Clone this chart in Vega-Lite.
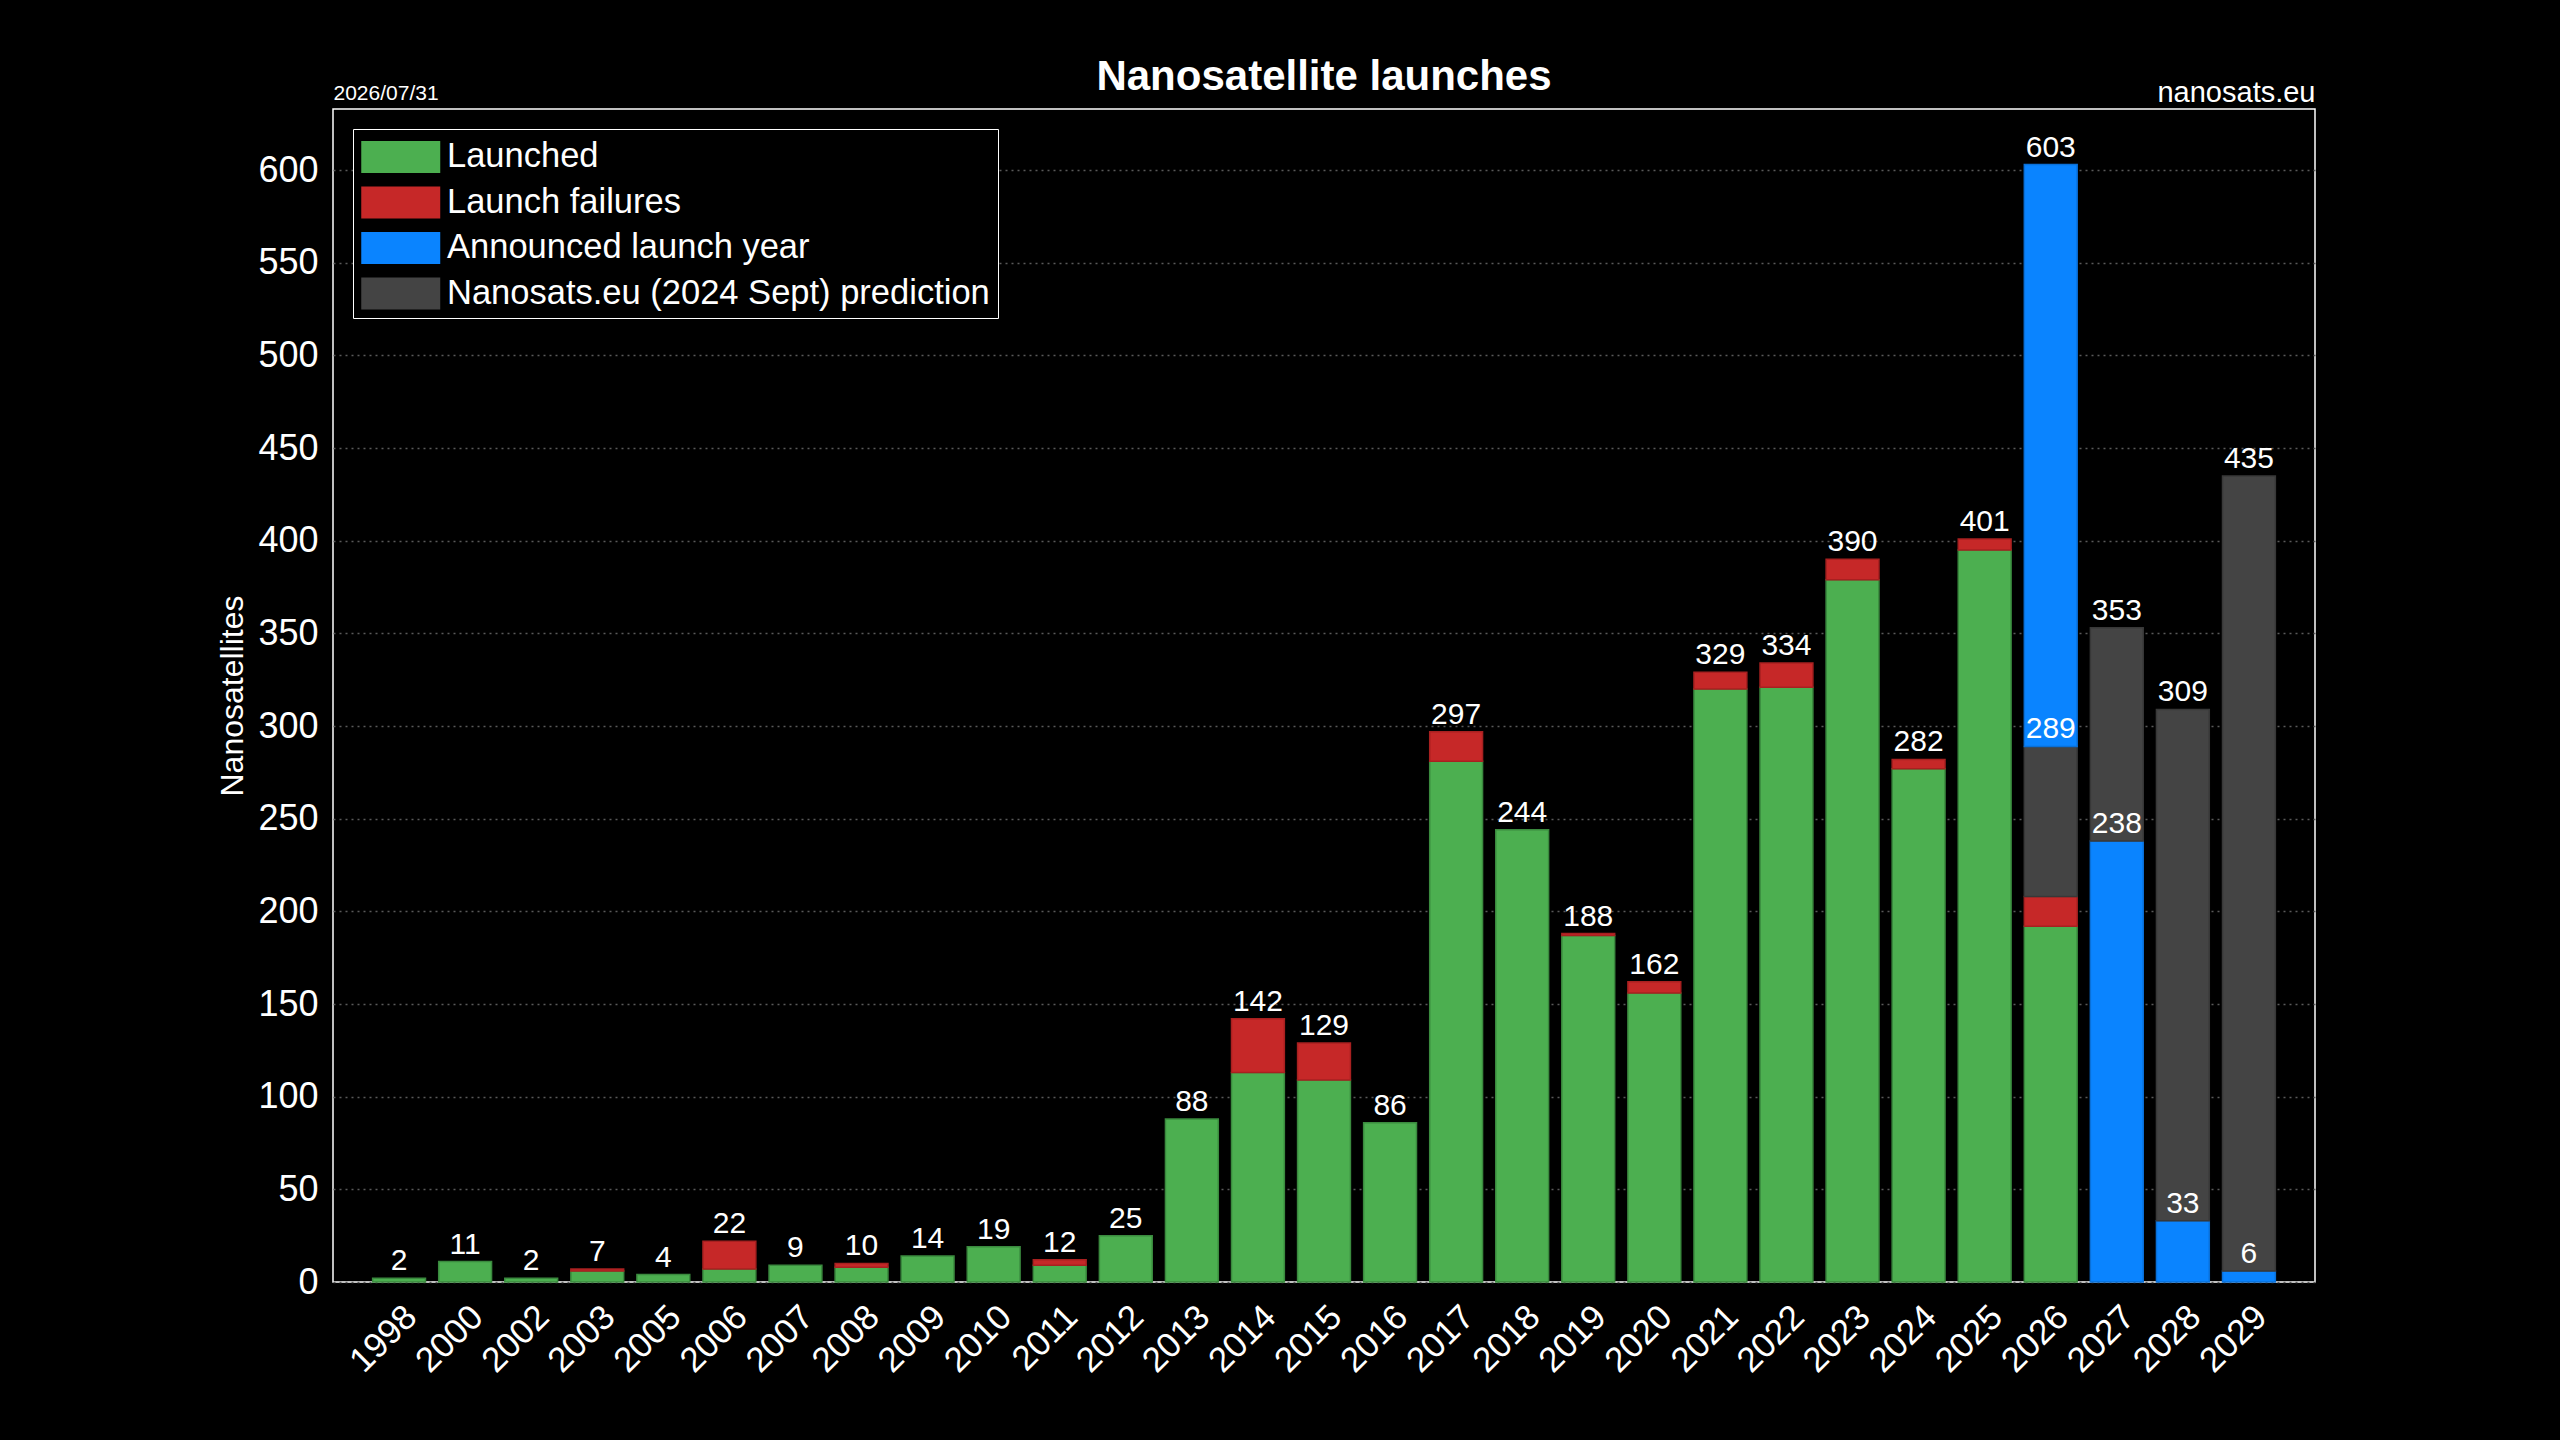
{
  "$schema": "https://vega.github.io/schema/vega-lite/v6.json",
  "width": 1982,
  "height": 1173,
  "autosize": "none",
  "padding": {"left": 333, "top": 109, "right": 245, "bottom": 158},
  "background": "black",
  "title": {
    "text": "Nanosatellite launches",
    "anchor": "middle",
    "baseline": "alphabetic",
    "offset": -54,
    "font": "Liberation Sans",
    "fontSize": 42,
    "fontWeight": "bold",
    "color": "white"
  },
  "datasets": {
    "bars": [
      {"year": "1998", "series": "Launched", "n": 2},
      {"year": "2000", "series": "Launched", "n": 11},
      {"year": "2002", "series": "Launched", "n": 2},
      {"year": "2003", "series": "Launched", "n": 6},
      {"year": "2003", "series": "Launch failures", "n": 1},
      {"year": "2005", "series": "Launched", "n": 4},
      {"year": "2006", "series": "Launched", "n": 7},
      {"year": "2006", "series": "Launch failures", "n": 15},
      {"year": "2007", "series": "Launched", "n": 9},
      {"year": "2008", "series": "Launched", "n": 8},
      {"year": "2008", "series": "Launch failures", "n": 2},
      {"year": "2009", "series": "Launched", "n": 14},
      {"year": "2010", "series": "Launched", "n": 19},
      {"year": "2011", "series": "Launched", "n": 9},
      {"year": "2011", "series": "Launch failures", "n": 3},
      {"year": "2012", "series": "Launched", "n": 25},
      {"year": "2013", "series": "Launched", "n": 88},
      {"year": "2014", "series": "Launched", "n": 113},
      {"year": "2014", "series": "Launch failures", "n": 29},
      {"year": "2015", "series": "Launched", "n": 109},
      {"year": "2015", "series": "Launch failures", "n": 20},
      {"year": "2016", "series": "Launched", "n": 86},
      {"year": "2017", "series": "Launched", "n": 281},
      {"year": "2017", "series": "Launch failures", "n": 16},
      {"year": "2018", "series": "Launched", "n": 244},
      {"year": "2019", "series": "Launched", "n": 187},
      {"year": "2019", "series": "Launch failures", "n": 1},
      {"year": "2020", "series": "Launched", "n": 156},
      {"year": "2020", "series": "Launch failures", "n": 6},
      {"year": "2021", "series": "Launched", "n": 320},
      {"year": "2021", "series": "Launch failures", "n": 9},
      {"year": "2022", "series": "Launched", "n": 321},
      {"year": "2022", "series": "Launch failures", "n": 13},
      {"year": "2023", "series": "Launched", "n": 379},
      {"year": "2023", "series": "Launch failures", "n": 11},
      {"year": "2024", "series": "Launched", "n": 277},
      {"year": "2024", "series": "Launch failures", "n": 5},
      {"year": "2025", "series": "Launched", "n": 395},
      {"year": "2025", "series": "Launch failures", "n": 6},
      {"year": "2026", "series": "Launched", "n": 192},
      {"year": "2026", "series": "Launch failures", "n": 16},
      {"year": "2026", "series": "Nanosats.eu (2024 Sept) prediction", "n": 81},
      {"year": "2026", "series": "Announced launch year", "n": 314},
      {"year": "2027", "series": "Announced launch year", "n": 238},
      {"year": "2027", "series": "Nanosats.eu (2024 Sept) prediction", "n": 115},
      {"year": "2028", "series": "Announced launch year", "n": 33},
      {"year": "2028", "series": "Nanosats.eu (2024 Sept) prediction", "n": 276},
      {"year": "2029", "series": "Announced launch year", "n": 6},
      {"year": "2029", "series": "Nanosats.eu (2024 Sept) prediction", "n": 429}
    ],
    "labels": [
      {"year": "1998", "n": 2},
      {"year": "2000", "n": 11},
      {"year": "2002", "n": 2},
      {"year": "2003", "n": 7},
      {"year": "2005", "n": 4},
      {"year": "2006", "n": 22},
      {"year": "2007", "n": 9},
      {"year": "2008", "n": 10},
      {"year": "2009", "n": 14},
      {"year": "2010", "n": 19},
      {"year": "2011", "n": 12},
      {"year": "2012", "n": 25},
      {"year": "2013", "n": 88},
      {"year": "2014", "n": 142},
      {"year": "2015", "n": 129},
      {"year": "2016", "n": 86},
      {"year": "2017", "n": 297},
      {"year": "2018", "n": 244},
      {"year": "2019", "n": 188},
      {"year": "2020", "n": 162},
      {"year": "2021", "n": 329},
      {"year": "2022", "n": 334},
      {"year": "2023", "n": 390},
      {"year": "2024", "n": 282},
      {"year": "2025", "n": 401},
      {"year": "2026", "n": 603},
      {"year": "2026", "n": 289},
      {"year": "2027", "n": 353},
      {"year": "2027", "n": 238},
      {"year": "2028", "n": 309},
      {"year": "2028", "n": 33},
      {"year": "2029", "n": 435},
      {"year": "2029", "n": 6}
    ]
  },
  "layer": [
    {
      "data": {"name": "bars"},
      "transform": [
        {"calculate": "datum.series === 'Launched' ? 1 : datum.series === 'Launch failures' ? 2 : datum.series === 'Announced launch year' ? (datum.year === '2026' ? 4 : 1) : 3", "as": "k"}
      ],
      "mark": {"type": "bar", "strokeWidth": 1.5},
      "encoding": {
        "x": {
          "field": "year",
          "type": "ordinal",
          "scale": {"paddingInner": 0.2, "paddingOuter": 0.6},
          "axis": {
            "title": null,
            "labelAngle": -45,
            "labelAlign": "right",
            "labelBaseline": "top",
            "labelPadding": 17,
            "labelFontSize": 35,
            "ticks": false,
            "domain": false
          }
        },
        "y": {
          "field": "n",
          "type": "quantitative",
          "stack": "zero",
          "scale": {"domain": [0, 633], "nice": false},
          "axis": {
            "title": "Nanosatellites",
            "values": [0, 50, 100, 150, 200, 250, 300, 350, 400, 450, 500, 550, 600],
            "labelFontSize": 36,
            "labelPadding": 15,
            "titleFontSize": 32,
            "titleFontWeight": "normal",
            "titlePadding": 8,
            "ticks": false,
            "domain": false,
            "grid": true,
            "gridColor": "#5a5a5a",
            "gridDash": [2, 4],
            "gridWidth": 1.5
          }
        },
        "color": {
          "field": "series",
          "type": "nominal",
          "scale": {
            "domain": ["Launched", "Launch failures", "Announced launch year", "Nanosats.eu (2024 Sept) prediction"],
            "range": ["#4caf50", "#c62828", "#0a84ff", "#444444"]
          },
          "legend": {
            "title": null,
            "orient": "none",
            "legendX": 20,
            "legendY": 20,
            "direction": "vertical",
            "symbolType": "M-1,-0.81H3V0.81H-1Z",
            "symbolSize": 1560,
            "symbolStrokeWidth": 0,
            "labelFontSize": 34.5,
            "labelOffset": 46,
            "labelLimit": 0,
            "labelColor": "white",
            "rowPadding": 8.5,
            "padding": 8,
            "strokeColor": "white",
            "fillColor": "black"
          }
        },
        "stroke": {
          "field": "series",
          "type": "nominal",
          "scale": {
            "domain": ["Launched", "Launch failures", "Announced launch year", "Nanosats.eu (2024 Sept) prediction"],
            "range": ["#3a8a3e", "#a82020", "#0a70d8", "#383838"]
          },
          "legend": null
        },
        "order": {"field": "k", "type": "quantitative"}
      }
    },
    {
      "data": {"name": "labels"},
      "mark": {"type": "text", "baseline": "alphabetic", "dy": -8, "fontSize": 30, "color": "white", "font": "Liberation Sans"},
      "encoding": {
        "x": {
          "field": "year",
          "type": "ordinal",
          "axis": {
            "orient": "top",
            "title": "2026/07/31",
            "titleAnchor": "start",
            "titleAlign": "left",
            "titleFontSize": 21,
            "titleFontWeight": "normal",
            "titlePadding": 6,
            "labels": false,
            "ticks": false,
            "domain": false
          }
        },
        "y": {
          "field": "n",
          "type": "quantitative",
          "axis": {
            "orient": "right",
            "title": "nanosats.eu",
            "titleAngle": 0,
            "titleAnchor": "end",
            "titleAlign": "right",
            "titleBaseline": "alphabetic",
            "titleX": 0,
            "titleY": -8,
            "titleFontSize": 29,
            "titleFontWeight": "normal",
            "labels": false,
            "ticks": false,
            "domain": false,
            "grid": false
          }
        },
        "text": {"field": "n", "type": "quantitative"}
      }
    }
  ],
  "resolve": {"axis": {"x": "independent", "y": "independent"}},
  "config": {
    "font": "Liberation Sans",
    "view": {"stroke": "white", "strokeWidth": 1.5},
    "axis": {"labelColor": "white", "titleColor": "white", "labelFont": "Liberation Sans", "titleFont": "Liberation Sans"},
    "legend": {"labelFont": "Liberation Sans"}
  }
}
